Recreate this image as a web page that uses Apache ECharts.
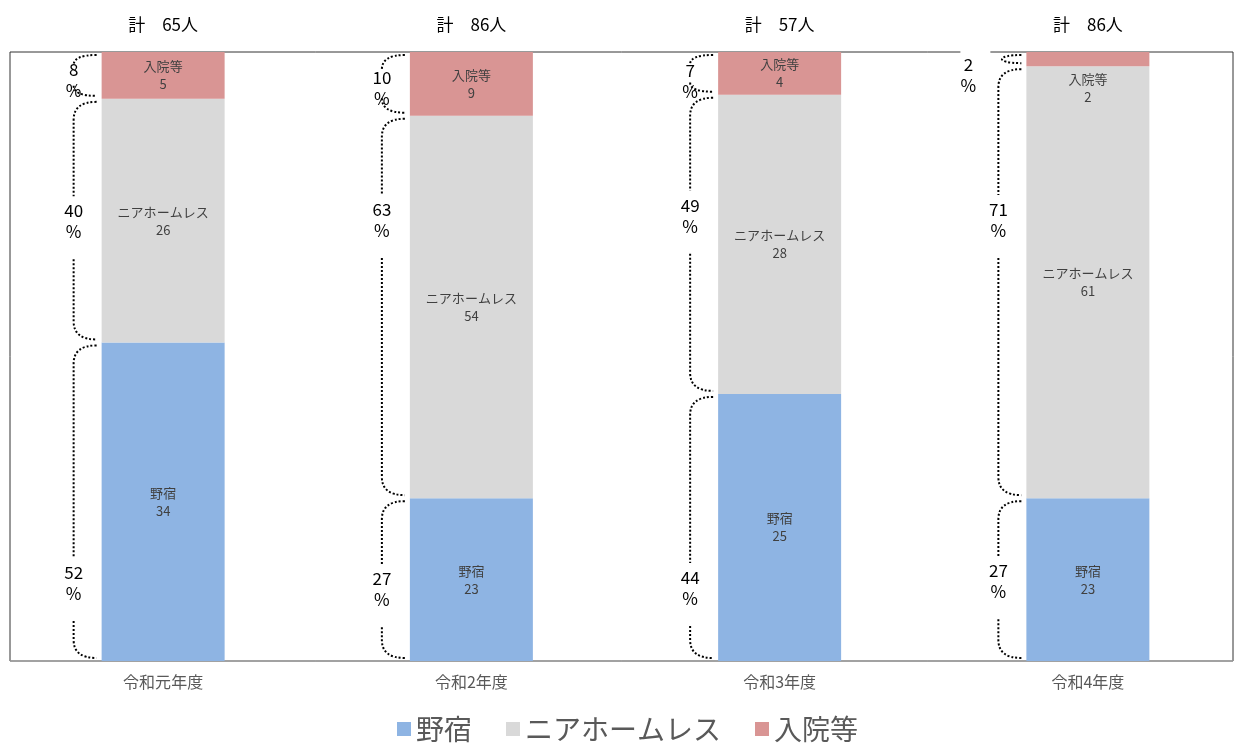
<!DOCTYPE html>
<html><head><meta charset="utf-8">
<script src="https://cdn.jsdelivr.net/npm/echarts@6/dist/echarts.min.js"></script>
<style>html,body{margin:0;padding:0;background:#fff}#c{width:1244px;height:744px}</style>
</head><body><div id="c"></div>
<script>
// ---- data ----
const categories = ['令和元年度', '令和2年度', '令和3年度', '令和4年度'];
const seriesNames = ['野宿', 'ニアホームレス', '入院等'];
const nojuku = [34, 23, 25, 23];
const nearHomeless = [26, 54, 28, 61];
const nyuin = [5, 9, 4, 2];
// ---- layout: vertical anchor (in % axis units) of the bracket percentage labels, per series ----
const pctLabelAtNojuku = [12.8, 11.8, 12.0, 13.1];
const pctLabelAtNear = [72.2, 72.4, 73.1, 72.4];
const pctLabelAtNyuin = [95.4, 94.1, 95.2, 96.2];

const counts = [nojuku, nearHomeless, nyuin];
const labelAts = [pctLabelAtNojuku, pctLabelAtNear, pctLabelAtNyuin];
const colors = ['#8EB4E3', '#D9D9D9', '#D99594'];
const totals = categories.map((_, i) => counts.reduce((s, arr) => s + arr[i], 0));
const BAR_W = 123;
const FONT = '"Noto Sans CJK JP", "Noto Sans", sans-serif';

// plot frame (visible box), category band extends slightly past the right edge
const FRAME = { x: 10, y: 52, w: 1223, h: 609 };

const barSeries = seriesNames.map((name, s) => ({
  name, type: 'bar', stack: 'all', barWidth: BAR_W,
  itemStyle: { color: colors[s] },
  data: counts[s].map((n, i) => {
    const pct = n / totals[i] * 100;
    const item = { value: pct, count: n };
    if (pct < 4) item.label = { position: 'bottom', distance: 4 };
    return item;
  }),
  label: {
    show: true, position: 'inside', color: '#404040', fontSize: 13, lineHeight: 18,
    fontFamily: FONT,
    formatter: p => p.seriesName + '\n' + p.data.count
  }
}));

// bracket data: [catIndex, start, end, pctRounded, labelAt]
const braceData = [];
categories.forEach((_, i) => {
  let acc = 0;
  counts.forEach((arr, s) => {
    const pct = arr[i] / totals[i] * 100;
    braceData.push([i, acc, acc + pct, Math.round(pct), labelAts[s][i]]);
    acc += pct;
  });
});

function renderBrace(params, api) {
  const ci = api.value(0);
  const top = api.coord([ci, api.value(2)]);
  const bot = api.coord([ci, api.value(1)]);
  const lab = api.coord([ci, api.value(4)]);
  const borderTop = api.coord([ci, 100])[1];
  const xb = top[0] - BAR_W / 2;
  const xv = xb - 28, xe = xb - 5;
  const a = top[1] + 3, b = bot[1] - 3;
  const h = b - a;
  const small = h < 20;
  const children = [];
  let d;
  let lx = xv, ly = lab[1];
  if (small) {
    d = `M ${xe} ${a} C ${xe - 26} ${a}, ${xe - 26} ${b}, ${xe} ${b}`;
    lx = xb - 58;
  } else {
    const r = Math.min(18, h / 4);
    const gT = ly - 25, gB = ly + 38;
    d = `M ${xe} ${a} Q ${xv} ${a} ${xv} ${a + r}`;
    if (gT > a + r) d += ` L ${xv} ${Math.min(gT, b - r)}`;
    if (gB < b - r) d += ` M ${xv} ${Math.max(gB, a + r)} L ${xv} ${b - r}`;
    else d += ` M ${xv} ${b - r}`;
    d += ` Q ${xv} ${b} ${xe} ${b}`;
  }
  children.push({
    type: 'path', shape: { pathData: d },
    style: { fill: null, stroke: '#000', lineWidth: 2, lineDash: [2, 2] }
  });
  if (small) {
    children.push({ type: 'rect', shape: { x: lx - 8, y: borderTop - 3, width: 30, height: 6 }, style: { fill: '#fff' } });
  }
  children.push({
    type: 'text', x: lx, y: ly,
    style: {
      text: api.value(3) + '\n%', fill: '#000', fontSize: 17, lineHeight: 21,
      fontFamily: FONT, align: 'center', verticalAlign: 'middle'
    }
  });
  return { type: 'group', children };
}

const chart = echarts.init(document.getElementById('c'));
chart.setOption({
  animation: false,
  textStyle: { fontFamily: FONT },
  grid: { left: 9, right: 2, top: 52, bottom: 83, show: false },
  graphic: [
    { type: 'rect', z: 0, silent: true,
      shape: { x: FRAME.x, y: FRAME.y, width: FRAME.w, height: FRAME.h },
      style: { fill: null, stroke: '#333', lineWidth: 1 } },
    { type: 'line', z: 0, silent: true,
      shape: { x1: FRAME.x, y1: FRAME.y + FRAME.h, x2: FRAME.x + FRAME.w, y2: FRAME.y + FRAME.h },
      style: { stroke: '#A6A6A6', lineWidth: 1.5 } }
  ],
  legend: {
    data: seriesNames, bottom: -4, left: 392, itemWidth: 14, itemHeight: 14, itemGap: 34,
    icon: 'rect', textStyle: { fontSize: 28, color: '#595959', fontFamily: FONT }
  },
  xAxis: [
    {
      type: 'category', data: categories, position: 'bottom',
      axisLine: { show: false }, axisTick: { show: false },
      axisLabel: { color: '#595959', fontSize: 16, margin: 13, fontFamily: FONT }
    },
    {
      type: 'category', data: categories, position: 'top',
      axisLine: { show: false }, axisTick: { show: false },
      axisLabel: { color: '#000', fontSize: 17, margin: 19, fontFamily: FONT,
        formatter: (v, idx) => '計　' + totals[idx] + '人' }
    }
  ],
  yAxis: { type: 'value', min: 0, max: 100, show: false },
  series: barSeries.concat([{
    type: 'custom', name: 'brace', renderItem: renderBrace, data: braceData,
    encode: { x: 0, y: 1 }, z: 5, clip: false, silent: true
  }])
});
</script></body></html>
